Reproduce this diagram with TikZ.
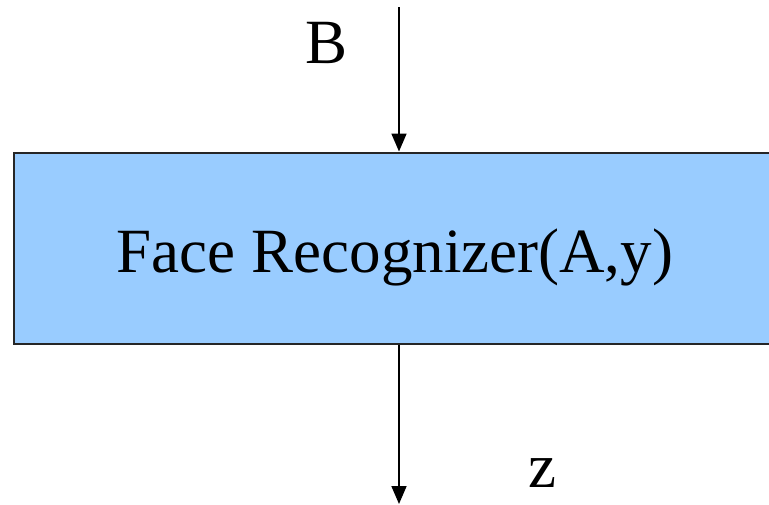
\documentclass[tikz,border=0pt]{standalone}
\usepackage{fontspec}
\setmainfont{Liberation Serif}
\usetikzlibrary{arrows.meta}
\definecolor{boxblue}{HTML}{99CCFF}
\tikzset{
  procbox/.style={draw=black!85, line width=2pt, fill=boxblue, minimum width=762pt,
    minimum height=191pt, inner sep=0pt, text height=48pt, text depth=0pt,
    font=\fontsize{63}{70}\selectfont},
  flow/.style={line width=1.8pt, -{Triangle[width=15pt,length=18pt]}},
  lbl/.style={font=\fontsize{63}{70}\selectfont, inner sep=0pt}
}
\begin{document}
\begin{tikzpicture}[x=1pt,y=-1pt]
  \useasboundingbox (0,0) rectangle (769,504);
  \clip (0,0) rectangle (769,504);
  % recognizer block, running past the right margin
  \node[procbox] (rec) at (395,248) {Face Recognizer(A,y)};
  \coordinate (in) at (399,7);
  \coordinate (out) at (399,504);
  \draw[flow] (in) -- (in |- rec.north);
  \draw[flow] (rec.south -| out) -- (out);
  \node[lbl] (b) at (327,42.5) {B};
  \node[lbl] (z) at (542,473) {z};
\end{tikzpicture}
\end{document}
